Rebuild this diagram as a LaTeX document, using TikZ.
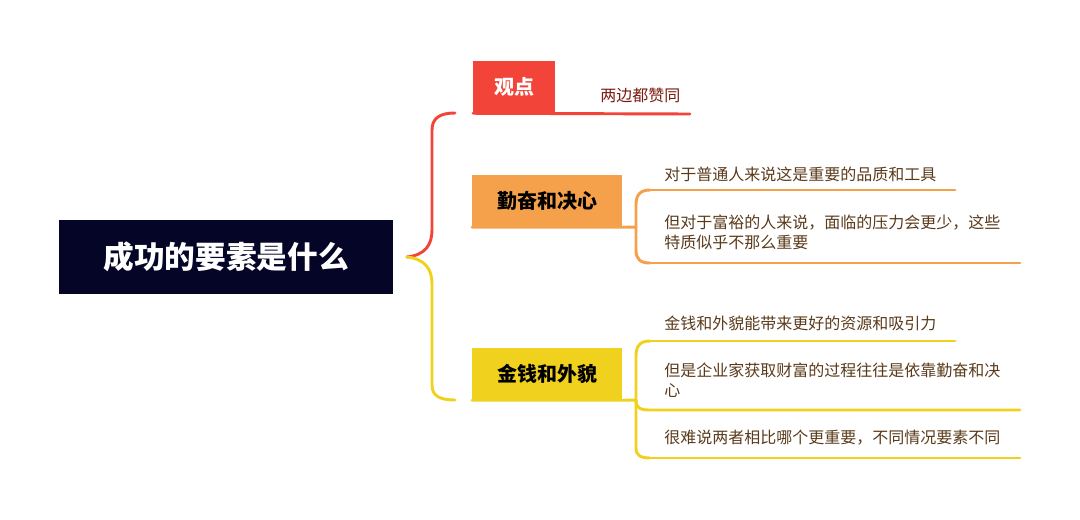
\documentclass[tikz,border=0pt]{standalone}
\usepackage{fontspec}
\setmainfont{Noto Sans CJK SC}
\begin{document}
\begin{tikzpicture}[x=0.75pt,y=-0.75pt,
 lbl/.style={anchor=west,inner sep=0,font=\fontsize{12}{15}\selectfont,text=#1,align=left},
 ln/.style={draw=#1,line width=2.2pt,line cap=round},
 topic/.style={fill=#1,minimum height=39pt,inner sep=0,font=\fontsize{15}{17}\selectfont\bfseries}]
\definecolor{cr}{HTML}{F24438}\definecolor{co}{HTML}{F5A04A}\definecolor{cy}{HTML}{F0D21E}
\definecolor{nv}{HTML}{050527}\definecolor{tb}{HTML}{5A3A1A}\definecolor{trd}{HTML}{7A1A10}
\useasboundingbox (0,0) rectangle (1080,519);
\node[fill=nv,minimum width=250pt,minimum height=56pt,text=white,font=\fontsize{23}{26}\selectfont\bfseries] (root) at (226,257) {成功的要素是什么};
\node[topic=cr,minimum width=61pt,text=white] (a) at (514,87) {观点};
\node[topic=co,minimum width=112pt] (b) at (547,201) {勤奋和决心};
\node[topic=cy,minimum width=112pt] (c) at (547,374) {金钱和外貌};
\coordinate (r) at (407,257);
\draw[ln=cr] (r) .. controls (425,255) and (432,245) .. (432,230) -- (432,130) .. controls (432,118) and (440,113) .. (455,113);
\draw[ln=cy] (r) .. controls (425,259) and (432,269) .. (432,284) -- (432,385) .. controls (432,396) and (440,400) .. (455,400);
\draw[ln=cr] (a.south west) -- (690,114);
\node[lbl=trd] (a1) at (600,95) {两边都赞同};
\draw[ln=co] (b.south west) -- (b.south east) -- (636,227);
\draw[ln=co] (650,190) .. controls (640,190) and (636,195) .. (636,205) -- (636,250) .. controls (636,259) and (640,263) .. (650,263);
\draw[ln=co] (650,190) -- (955,190);
\draw[ln=co] (650,263) -- (1020,263);
\node[lbl=tb] (b1) at (664,174) {对于普通人来说这是重要的品质和工具};
\node[lbl=tb] (b2) at (664,232) {但对于富裕的人来说，面临的压力会更少，这些\\特质似乎不那么重要};
\draw[ln=cy] (c.south west) -- (c.south east) -- (636,400);
\draw[ln=cy] (650,341) .. controls (640,341) and (636,346) .. (636,356) -- (636,448) .. controls (636,455) and (640,458) .. (650,458);
\draw[ln=cy] (650,341) -- (955,341);
\draw[ln=cy] (636,400) .. controls (636,408) and (640,410) .. (650,410) -- (1020,410);
\draw[ln=cy] (650,458) -- (1020,458);
\node[lbl=tb] (c1) at (664,323) {金钱和外貌能带来更好的资源和吸引力};
\node[lbl=tb] (c2) at (664,380) {但是企业家获取财富的过程往往是依靠勤奋和决\\心};
\node[lbl=tb] (c3) at (664,438) {很难说两者相比哪个更重要，不同情况要素不同};
\end{tikzpicture}
\end{document}
